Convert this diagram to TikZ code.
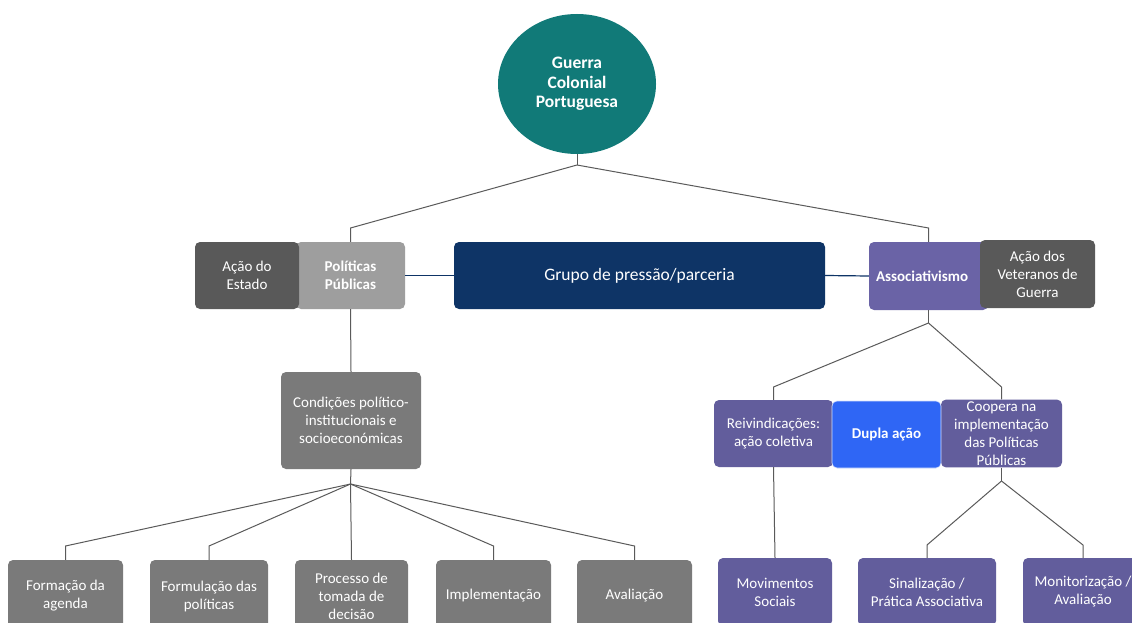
\documentclass[tikz,border=0pt]{standalone}
\usepackage{fontspec}
\setmainfont{Carlito}
\usetikzlibrary{shapes.geometric}
\definecolor{teal1}{HTML}{117A78}
\definecolor{dgray}{HTML}{595959}
\definecolor{lgray}{HTML}{9E9E9E}
\definecolor{mgray}{HTML}{7A7A7A}
\definecolor{navy1}{HTML}{0E3466}
\definecolor{purp}{HTML}{625D9C}
\definecolor{purpb}{HTML}{6A63A6}
\definecolor{blue1}{HTML}{2F66F5}
\definecolor{lnc}{HTML}{5A5A5A}
\tikzset{
  box/.style={rectangle, rounded corners=5pt, text=white, align=center, inner sep=2pt,
    font=\fontsize{15}{18}\selectfont},
  conn/.style={draw=lnc, line width=1pt},
  nconn/.style={draw=navy1, line width=1.2pt}
}
\begin{document}
\begin{tikzpicture}[x=1pt,y=-1pt]
\useasboundingbox (0,0) rectangle (1132,623);
\clip (0,0) rectangle (1132,623);
\fill[white] (0,0) rectangle (1132,623);

% top
\node[ellipse, fill=teal1, minimum width=158, minimum height=140, text=white, align=center,
  font=\fontsize{17.5}{19.5}\selectfont\bfseries] (gcp) at (577,84) {Guerra\\Colonial\\Portuguesa};

% second row
\node[box, fill=lgray, minimum width=109, minimum height=67, font=\fontsize{15}{18}\selectfont\bfseries] (pp) at (350.5,275.5) {Políticas\\Públicas};
\node[box, fill=dgray, minimum width=104, minimum height=67] (ae) at (247,275.5) {Ação do\\Estado};
\node[box, fill=navy1, minimum width=371, minimum height=67, font=\fontsize{17.5}{20}\selectfont] (gp) at (639.5,275.5) {Grupo de pressão/parceria};
\node[box, fill=purpb, minimum width=119, minimum height=68, font=\fontsize{15}{18}\selectfont\bfseries, text width=111, align=left] (as) at (928.5,276) {\hspace*{3pt}Associativismo};
\node[box, fill=dgray, minimum width=115, minimum height=68] (av) at (1037.5,274) {Ação dos\\Veteranos de\\Guerra};

% left branch
\node[box, fill=mgray, minimum width=140, minimum height=97] (cp) at (351,420.5) {Condições político-\\institucionais e\\socioeconómicas};
\node[box, fill=mgray, minimum width=115, minimum height=72] (b1) at (65.5,596) {Formação da\\agenda};
\node[box, fill=mgray, minimum width=118, minimum height=72] (b2) at (209,596) {Formulação das\\políticas};
\node[box, fill=mgray, minimum width=113, minimum height=72] (b3) at (351.5,596) {Processo de\\tomada de\\decisão};
\node[box, fill=mgray, minimum width=115, minimum height=72] (b4) at (493.5,596) {Implementação};
\node[box, fill=mgray, minimum width=115, minimum height=72] (b5) at (634.5,596) {Avaliação};

% right branch
\node[box, fill=purp, minimum width=119, minimum height=67] (rv) at (773.5,433.5) {Reivindicações:\\ação coletiva};
\node[box, fill=purp, minimum width=121, minimum height=67] (co) at (1001.5,433.5) {Coopera na\\implementação\\das Políticas\\Públicas};
\node[box, fill=blue1, draw=white!80!blue1, line width=0.6pt, minimum width=109, minimum height=67, font=\fontsize{15}{18}\selectfont\bfseries] (da) at (886.5,434.5) {Dupla ação};
\node[box, fill=purp, minimum width=114, minimum height=68] (ms) at (775,592) {Movimentos\\Sociais};
\node[box, fill=purp, minimum width=138, minimum height=68] (sp) at (927,592) {Sinalização /\\Prática Associativa};
\node[box, fill=purp, minimum width=120, minimum height=68] (ma) at (1083,592) {Monitorização /\\Avaliação};

% junctions and elbows
\coordinate (j0) at (577,165);
\coordinate (e0) at (0,228);
\coordinate (j1) at (350.5,484);
\coordinate (e1) at (0,546);
\coordinate (j2) at (928.5,323);
\coordinate (e2) at (0,387);
\coordinate (j3) at (1001.5,481);
\coordinate (e3) at (0,545);

% connectors
\draw[conn] (gcp.south) -- (j0);
\draw[conn] (j0) -- (pp.north |- e0) -- (pp.north);
\draw[conn] (j0) -- (as.north |- e0) -- (as.north);
\draw[nconn] (pp.east) -- (gp.west);
\draw[nconn] (gp.east) -- (as.west);
\draw[conn] (pp.south) -- (cp.north);
\draw[conn] (cp.south) -- (j1);
\draw[conn] (j1) -- (b1.north |- e1) -- (b1.north);
\draw[conn] (j1) -- (b2.north |- e1) -- (b2.north);
\draw[conn] (j1) -- (b3.north);
\draw[conn] (j1) -- (b4.north |- e1) -- (b4.north);
\draw[conn] (j1) -- (b5.north |- e1) -- (b5.north);
\draw[conn] (as.south) -- (j2);
\draw[conn] (j2) -- (rv.north |- e2) -- (rv.north);
\draw[conn] (j2) -- (co.north |- e2) -- (co.north);
\draw[conn] (rv.south) -- (ms.north);
\draw[conn] (co.south) -- (j3);
\draw[conn] (j3) -- (sp.north |- e3) -- (sp.north);
\draw[conn] (j3) -- (ma.north |- e3) -- (ma.north);
\end{tikzpicture}
\end{document}
